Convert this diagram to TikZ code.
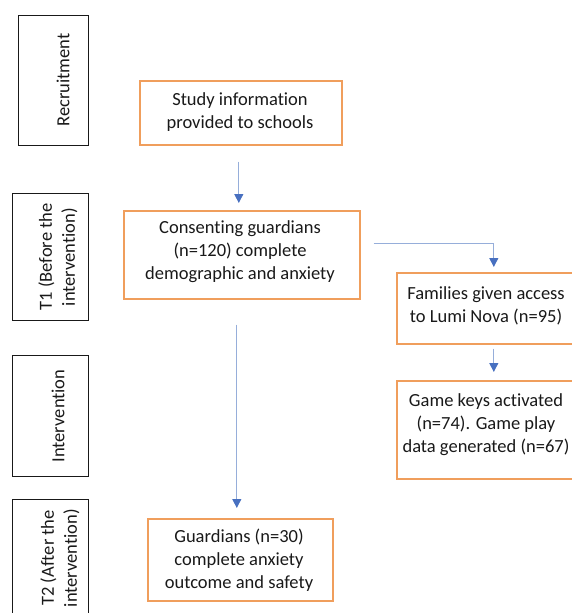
\documentclass[tikz,border=0pt]{standalone}
\usepackage{fontspec}
\setmainfont[Ligatures=NoCommon]{Carlito}
\usetikzlibrary{arrows.meta}
\definecolor{boxorange}{RGB}{240,158,92}
\definecolor{linkblue}{RGB}{150,174,218}
\definecolor{headblue}{RGB}{72,112,192}
\definecolor{boxblack}{RGB}{25,25,25}
\tikzset{
  obox/.style={draw=boxorange, line width=1.6pt, rectangle, inner sep=0pt, anchor=north west},
  kbox/.style={draw=boxblack, line width=1.4pt, rectangle, inner sep=0pt, anchor=north west},
  txt/.style={align=center, font=\fontsize{18.5}{23}\selectfont, inner sep=0pt, text=black!90},
  vtxt/.style={txt, rotate=90},
  conn/.style={draw=linkblue, line width=0.9pt, -{Triangle[length=9pt,width=9pt,color=headblue,fill=headblue]}}
}
\begin{document}
\begin{tikzpicture}[x=1pt,y=-1pt]
\useasboundingbox (0,0) rectangle (572,613);
\clip (0,0) rectangle (572,613);
% phase boxes
\node[kbox, minimum width=70pt, minimum height=130pt] (rec) at (18,15) {};
\node[vtxt] (rect) at (63,80) {Recruitment};
\node[kbox, minimum width=76pt, minimum height=127pt] (t1) at (12,193) {};
\node[vtxt] (t1t) at (58,257) {T1 (Before the\\intervention)};
\node[kbox, minimum width=76pt, minimum height=121pt] (int) at (12,355) {};
\node[vtxt] (intt) at (58,416) {Intervention};
\node[kbox, minimum width=76pt, minimum height=130pt] (t2) at (12,499) {};
\node[vtxt] (t2t) at (60,558) {T2 (After the\\intervention)};
% flow boxes
\node[obox, minimum width=202pt, minimum height=64pt] (study) at (139,80) {};
\node[txt] (studyt) at (240,112) {Study information\\provided to schools};
\node[obox, minimum width=236pt, minimum height=88pt] (cons) at (123,210) {};
\node[txt] (const) at (240,252) {Consenting guardians\\(n=120) complete\\demographic and anxiety};
\node[obox, minimum width=179pt, minimum height=71pt] (fam) at (396,272) {};
\node[txt] (famt) at (486,306) {Families given access\\to Lumi Nova (n=95)};
\node[obox, minimum width=179pt, minimum height=98pt] (game) at (396,380) {};
\node[txt] (gamet) at (486,425) {Game keys activated\\(n=74). Game play\\data generated (n=67)};
\node[obox, minimum width=185pt, minimum height=82pt] (guard) at (147,518) {};
\node[txt] (guardt) at (239,560) {Guardians (n=30)\\complete anxiety\\outcome and safety};
% connectors
\coordinate (s1) at ([xshift=-2pt,yshift=-16pt]study.south);
\draw[conn, shorten >=7pt] (s1) -- (s1 |- cons.north);
\coordinate (c1) at ([xshift=13pt,yshift=11pt]cons.east);
\draw[conn, shorten >=5pt] (c1) -| ([xshift=7.5pt]fam.north);
\coordinate (f1) at ([xshift=7.5pt,yshift=-4pt]fam.south);
\draw[conn, shorten >=8pt] (f1) -- (f1 |- game.north);
\coordinate (c2) at ([xshift=-5pt,yshift=-25pt]cons.south);
\draw[conn, shorten >=10pt] (c2) -- (c2 |- guard.north);
\end{tikzpicture}
\end{document}
